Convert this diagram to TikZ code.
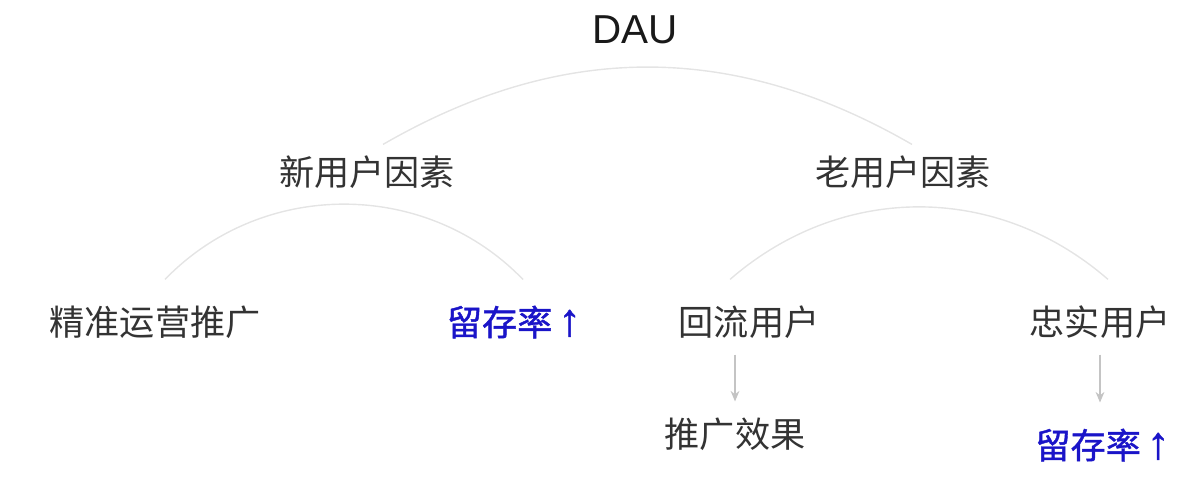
\documentclass[tikz,border=0pt]{standalone}
\usepackage{fontspec}
\setmainfont{Noto Sans CJK SC}
\newfontfamily\latinfont{Liberation Sans}
\newfontfamily\midfont{Noto Sans CJK SC}[FakeBold=1.2]
\newfontfamily\arrfont{Liberation Sans}[FakeBold=1.0]
\usepackage{tikz}
\usetikzlibrary{arrows.meta}

\definecolor{txtgray}{HTML}{333333}
\definecolor{arcgray}{HTML}{E4E4E4}
\definecolor{arrgray}{HTML}{C4C4C4}
\definecolor{upblue}{HTML}{1A14C8}

\begin{document}
\begin{tikzpicture}[
  top/.style={font=\latinfont\fontsize{23}{27}\selectfont, text=black!90},
  factor/.style={font=\fontsize{20}{24}\selectfont, text=txtgray},
  leaf/.style={font=\fontsize{20}{24}\selectfont, text=txtgray},
  up/.style={font=\midfont\fontsize{20}{24}\selectfont, text=upblue},
  arc/.style={draw=arcgray, line width=0.8pt},
  flow/.style={draw=arrgray, line width=0.7pt, -{Stealth[length=6pt,width=5pt]}}]
\useasboundingbox (0,0) rectangle (24,-9.56);
\node[top] (dau) at (12.7,-0.6) {DAU};
\node[factor] (newf) at (7.34,-3.44) {新用户因素};
\node[factor] (oldf) at (18.06,-3.44) {老用户因素};
\node[leaf] (promo) at (3.1,-6.44) {精准运营推广};
\node[up] (keep1) at (10.28,-6.44) {留存率\,{\arrfont\fontsize{26}{26}\selectfont ↑}};
\node[leaf] (back) at (14.98,-6.44) {回流用户};
\node[leaf] (loyal) at (22.0,-6.44) {忠实用户};
\node[leaf] (effect) at (14.7,-8.68) {推广效果};
\node[up] (keep2) at (22.05,-8.9) {留存率\,{\arrfont\fontsize{26}{26}\selectfont ↑}};
% arcs under each parent
\draw[arc] ([xshift=0.32cm,yshift=0.1cm]newf.north) to[bend left=30] ([xshift=0.18cm,yshift=0.1cm]oldf.north);
\draw[arc] ([xshift=0.2cm,yshift=0.4cm]promo.north) to[bend left=46] ([xshift=0.18cm,yshift=0.4cm]keep1.north);
\draw[arc] ([xshift=-0.38cm,yshift=0.4cm]back.north) to[bend left=41] ([xshift=0.16cm,yshift=0.4cm]loyal.north);
% arrows down
\draw[flow] ([yshift=-0.2cm]back.south -| effect.north) -- ([yshift=0.2cm]effect.north);
\draw[flow] ([yshift=-0.2cm]loyal.south) -- ([yshift=0.4cm]loyal.south |- keep2.north);
\end{tikzpicture}
\end{document}
